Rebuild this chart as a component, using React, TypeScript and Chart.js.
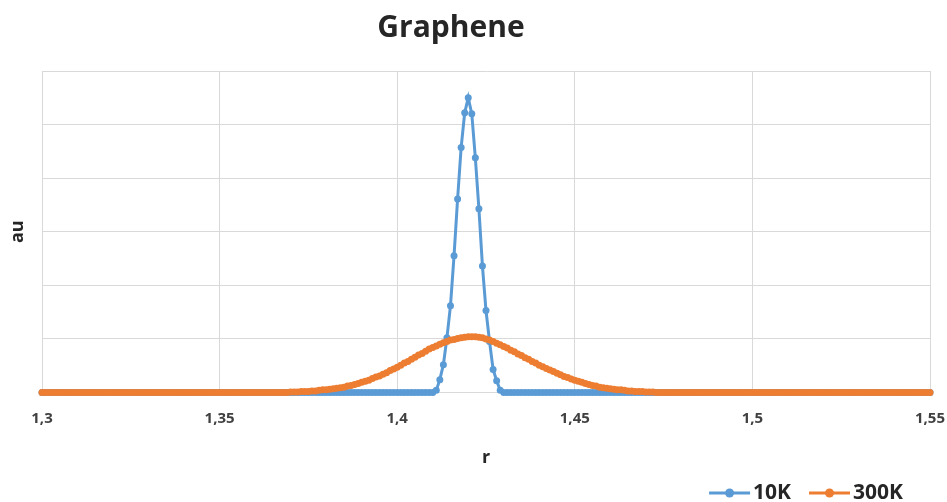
import React, { useEffect, useRef } from 'react';
import { Chart, registerables } from 'chart.js';

Chart.register(...registerables);

const chartTitle = 'Graphene';
const xAxisTitle = 'r';
const yAxisTitle = 'au';
const seriesNames = ['10K', '300K'];
const seriesColors = ['#5B9BD5', '#ED7D31'];
const xTickValues = [1.3, 1.35, 1.4, 1.45, 1.5, 1.55];
const xTickLabels = ['1,3', '1,35', '1,4', '1,45', '1,5', '1,55'];
const yTickValues = [0, 1, 2, 3, 4, 5, 6];

// sample positions (r grid, 1.300 .. 1.550 step 0.001)
const rStart = 1.3;
const rStep = 0.001;
const rCount = 251;
const rValues = Array.from({ length: rCount }, (_, i) => Math.round((rStart + i * rStep) * 1000) / 1000);

const au10K = [
  0, 0, 0, 0, 0, 0, 0, 0, 0, 0,
  0, 0, 0, 0, 0, 0, 0, 0, 0, 0,
  0, 0, 0, 0, 0, 0, 0, 0, 0, 0,
  0, 0, 0, 0, 0, 0, 0, 0, 0, 0,
  0, 0, 0, 0, 0, 0, 0, 0, 0, 0,
  0, 0, 0, 0, 0, 0, 0, 0, 0, 0,
  0, 0, 0, 0, 0, 0, 0, 0, 0, 0,
  0, 0, 0, 0, 0, 0, 0, 0, 0, 0,
  0, 0, 0, 0, 0, 0, 0, 0, 0, 0,
  0, 0, 0, 0, 0, 0, 0, 0, 0, 0,
  0, 0, 0, 0, 0, 0, 0, 0, 0, 0,
  0,
  0.04, 0.24, 0.52, 1.02, 1.62, 2.55, 3.61, 4.57, 5.22, 5.5,
  5.2, 4.38, 3.43, 2.36, 1.53, 0.95, 0.43, 0.22, 0.04,
  0, 0, 0, 0, 0, 0, 0, 0, 0, 0,
  0, 0, 0, 0, 0, 0, 0, 0, 0, 0,
  0, 0, 0, 0, 0, 0, 0, 0, 0, 0,
  0, 0, 0, 0, 0, 0, 0, 0, 0, 0,
  0, 0, 0, 0, 0, 0, 0, 0, 0, 0,
  0, 0, 0, 0, 0, 0, 0, 0, 0, 0,
  0, 0, 0, 0, 0, 0, 0, 0, 0, 0,
  0, 0, 0, 0, 0, 0, 0, 0, 0, 0,
  0, 0, 0, 0, 0, 0, 0, 0, 0, 0,
  0, 0, 0, 0, 0, 0, 0, 0, 0, 0,
  0, 0, 0, 0, 0, 0, 0, 0, 0, 0,
  0, 0, 0, 0, 0, 0, 0, 0, 0, 0,
  0,
];

const au300K = [
  0, 0, 0, 0, 0, 0, 0, 0, 0, 0,
  0, 0, 0, 0, 0, 0, 0, 0, 0, 0,
  0, 0, 0, 0, 0, 0, 0, 0, 0, 0,
  0, 0, 0, 0, 0, 0, 0, 0, 0, 0,
  0, 0, 0, 0, 0, 0, 0, 0, 0, 0,
  0, 0, 0, 0, 0, 0, 0, 0, 0, 0,
  0, 0, 0, 0, 0, 0, 0, 0, 0, 0,
  0.01, 0.01, 0.01, 0.02, 0.02, 0.02, 0.03, 0.03, 0.04, 0.05,
  0.05, 0.06, 0.07, 0.08, 0.09, 0.1, 0.12, 0.13, 0.15, 0.17,
  0.19, 0.21, 0.23, 0.26, 0.29, 0.31, 0.34, 0.37, 0.41, 0.44,
  0.47, 0.51, 0.55, 0.58, 0.62, 0.66, 0.7, 0.73, 0.77, 0.81,
  0.84, 0.87, 0.9, 0.93, 0.95, 0.98, 0.99, 1.01, 1.02, 1.03,
  1.04,
  1.04,
  1.04, 1.03, 1.02, 1.0, 0.98, 0.95, 0.92, 0.89, 0.86, 0.83,
  0.79, 0.76, 0.72, 0.69, 0.65, 0.62, 0.58, 0.55, 0.51, 0.48,
  0.45, 0.42, 0.39, 0.36, 0.33, 0.3, 0.28, 0.25, 0.23, 0.21,
  0.19, 0.17, 0.15, 0.13, 0.12, 0.1, 0.09, 0.08, 0.07, 0.06,
  0.05, 0.05, 0.04, 0.03, 0.03, 0.02, 0.02, 0.02, 0.01, 0.01,
  0.01,
  0, 0, 0, 0, 0, 0, 0, 0, 0, 0,
  0, 0, 0, 0, 0, 0, 0, 0, 0, 0,
  0, 0, 0, 0, 0, 0, 0, 0, 0, 0,
  0, 0, 0, 0, 0, 0, 0, 0, 0, 0,
  0, 0, 0, 0, 0, 0, 0, 0, 0, 0,
  0, 0, 0, 0, 0, 0, 0, 0, 0, 0,
  0, 0, 0, 0, 0, 0, 0, 0, 0, 0,
  0, 0, 0, 0, 0, 0, 0, 0,
];

const seriesValues = [au10K, au300K];

const FONT = '"Open Sans", "DejaVu Sans", sans-serif';
const GRID = '#d9d9d9';

const titlePlugin = {
  id: 'offsetTitle',
  afterDraw(chart: any) {
    const ctx = chart.ctx as CanvasRenderingContext2D;
    ctx.save();
    ctx.font = `bold 30px ${FONT}`;
    ctx.fillStyle = '#262626';
    ctx.textAlign = 'center';
    ctx.textBaseline = 'middle';
    ctx.fillText(chartTitle, 451, 28);
    ctx.restore();
  },
};

const legendPlugin = {
  id: 'lineDotLegend',
  afterDraw(chart: any) {
    const ctx = chart.ctx as CanvasRenderingContext2D;
    ctx.save();
    ctx.font = `bold 21px ${FONT}`;
    const lineLen = 41;
    const gapText = 3;
    const itemGap = 18;
    const y = chart.height - 9;
    const widths = seriesNames.map((n) => ctx.measureText(n).width);
    const total = widths.reduce((a, w) => a + lineLen + gapText + w, 0) + itemGap * (seriesNames.length - 1);
    let x = chart.width - 44 - total;
    seriesNames.forEach((name, i) => {
      const c = seriesColors[i];
      ctx.strokeStyle = c;
      ctx.lineWidth = 3;
      ctx.beginPath();
      ctx.moveTo(x, y);
      ctx.lineTo(x + lineLen, y);
      ctx.stroke();
      ctx.fillStyle = c;
      ctx.beginPath();
      ctx.arc(x + lineLen / 2, y, 4.5, 0, Math.PI * 2);
      ctx.fill();
      ctx.fillStyle = '#262626';
      ctx.textBaseline = 'middle';
      ctx.textAlign = 'left';
      ctx.fillText(name, x + lineLen + gapText, y);
      x += lineLen + gapText + widths[i] + itemGap;
    });
    ctx.restore();
  },
};

export default function App() {
  const ref = useRef<HTMLCanvasElement>(null);

  useEffect(() => {
    const canvas = ref.current;
    if (!canvas) return;
    const chart = new Chart(canvas, {
      type: 'line',
      data: {
        datasets: seriesNames.map((name, s) => ({
          label: name,
          data: rValues.map((r, i) => ({ x: r, y: seriesValues[s][i] })),
          borderColor: seriesColors[s],
          backgroundColor: seriesColors[s],
          pointBackgroundColor: seriesColors[s],
          pointBorderColor: seriesColors[s],
          borderWidth: 3,
          pointRadius: 3.5,
          pointBorderWidth: 0,
          tension: 0,
          fill: false,
          clip: false as any,
          order: s === 0 ? 2 : 1,
        })),
      },
      options: {
        animation: false,
        responsive: false,
        devicePixelRatio: 1,
        layout: { padding: { left: 0, right: 17, top: 71, bottom: 33 } },
        plugins: {
          legend: { display: false },
          tooltip: { enabled: false },
          title: { display: false },
        },
        scales: {
          x: {
            type: 'linear',
            min: xTickValues[0],
            max: xTickValues[xTickValues.length - 1],
            afterBuildTicks: (s: any) => {
              s.ticks = xTickValues.map((v) => ({ value: v }));
            },
            afterFit: (s: any) => {
              s.height = 76.5;
              s.paddingLeft = 0;
              s.paddingRight = 0;
            },
            ticks: {
              autoSkip: false,
              maxRotation: 0,
              padding: 17,
              color: '#404040',
              font: { family: FONT, size: 15, weight: 'bold' },
              callback: (v: any) => {
                const i = xTickValues.findIndex((t) => Math.abs(t - Number(v)) < 1e-6);
                return i >= 0 ? xTickLabels[i] : '';
              },
            },
            grid: { color: GRID, drawTicks: false },
            border: { color: GRID },
            title: {
              display: true,
              text: xAxisTitle,
              color: '#262626',
              font: { family: FONT, size: 18, weight: 'bold', lineHeight: 1.2 },
              padding: { top: 0, bottom: 0 },
            },
          },
          y: {
            min: yTickValues[0],
            max: yTickValues[yTickValues.length - 1],
            afterBuildTicks: (s: any) => {
              s.ticks = yTickValues.map((v) => ({ value: v }));
            },
            afterFit: (s: any) => {
              s.width = 42;
              s.paddingTop = 0;
              s.paddingBottom = 0;
            },
            ticks: { display: false },
            grid: { color: GRID, drawTicks: false },
            border: { color: GRID },
            title: {
              display: true,
              text: yAxisTitle,
              color: '#262626',
              font: { family: FONT, size: 18, weight: 'bold', lineHeight: 1.2 },
              padding: { top: 7, bottom: 0 },
            },
          },
        },
      },
      plugins: [titlePlugin, legendPlugin],
    });
    return () => chart.destroy();
  }, []);

  return (
    <div style={{ position: 'fixed', left: 0, top: 0, width: 947, height: 502, background: '#fff' }}>
      <canvas ref={ref} width={947} height={502} style={{ display: 'block' }} />
    </div>
  );
}
